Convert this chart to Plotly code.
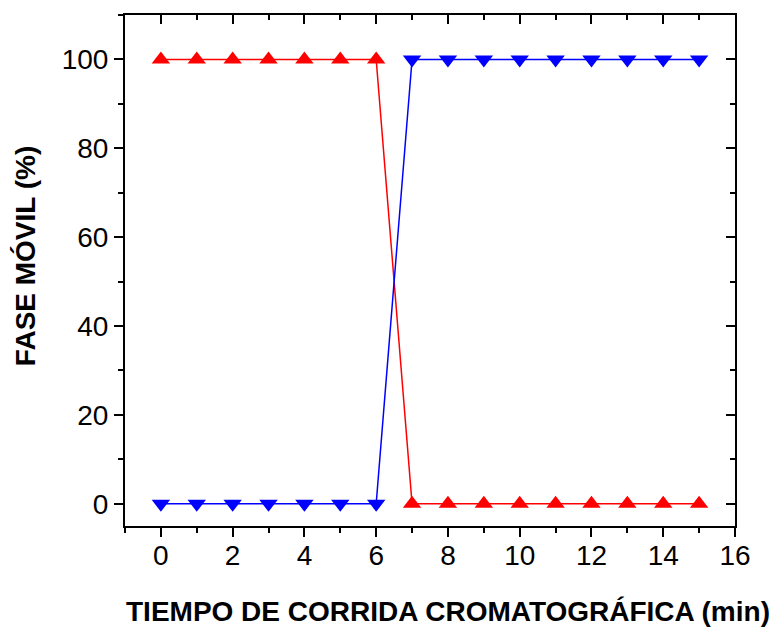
import plotly.graph_objects as go

tiempo = list(range(0, 16))
fase_a = [100, 100, 100, 100, 100, 100, 100, 0, 0, 0, 0, 0, 0, 0, 0, 0]
fase_b = [0, 0, 0, 0, 0, 0, 0, 100, 100, 100, 100, 100, 100, 100, 100, 100]
x_ticks = [0, 2, 4, 6, 8, 10, 12, 14, 16]
y_ticks = [0, 20, 40, 60, 80, 100]
x_title = "TIEMPO DE CORRIDA CROMATOGRÁFICA (min)"
y_title = "FASE MÓVIL (%)"

FONT = "Liberation Sans, Arial, sans-serif"

fig = go.Figure()
fig.add_trace(go.Scatter(x=tiempo, y=fase_a, mode="lines+markers",
                         line=dict(color="#ff0000", width=1.5),
                         marker=dict(symbol="triangle-up", size=16, color="#ff0000"),
                         showlegend=False, cliponaxis=False))
fig.add_trace(go.Scatter(x=tiempo, y=fase_b, mode="lines+markers",
                         line=dict(color="#0000ff", width=1.5),
                         marker=dict(symbol="triangle-down", size=16, color="#0000ff"),
                         showlegend=False, cliponaxis=False))

common = dict(showgrid=False, zeroline=False, linecolor="black", linewidth=2,
              tickcolor="black", tickwidth=1.5, ticklen=9, automargin=False)
minor_out_x = dict(dtick=1, tick0=0, ticks="outside", ticklen=5, tickcolor="black", tickwidth=1.5)
minor_out_y = dict(dtick=10, tick0=0, ticks="outside", ticklen=5, tickcolor="black", tickwidth=1.5)
fig.update_layout(
    width=776, height=629,
    margin=dict(l=125, r=41, t=15, b=103, autoexpand=False),
    plot_bgcolor="white", paper_bgcolor="white",
    font=dict(family=FONT, color="black"),
    xaxis=dict(range=[-1, 16], tickvals=x_ticks, ticks="outside",
               tickfont=dict(size=28), ticklabelstandoff=-6, minor=minor_out_x, **common),
    yaxis=dict(range=[-5, 110], tickvals=y_ticks, ticks="outside",
               tickfont=dict(size=28), minor=minor_out_y, **common),
    xaxis2=dict(overlaying="x", matches="x", side="top", tickvals=x_ticks, ticks="inside",
                showticklabels=False,
                minor=dict(minor_out_x, ticks="inside"), **common),
    yaxis2=dict(overlaying="y", matches="y", side="right", tickvals=y_ticks, ticks="inside",
                showticklabels=False,
                minor=dict(minor_out_y, ticks="inside"), **common),
    annotations=[
        dict(text="<b>" + x_title + "</b>", xref="paper", yref="paper",
             x=0.5295, y=-0.168, xanchor="center", yanchor="middle",
             showarrow=False, font=dict(size=28)),
        dict(text="<b>" + y_title + "</b>", xref="paper", yref="paper",
             x=-0.164, y=0.528, xanchor="center", yanchor="middle", textangle=-90,
             showarrow=False, font=dict(size=28)),
    ],
)
# invisible trace to activate the mirrored axes
fig.add_trace(go.Scatter(x=[tiempo[0]], y=[fase_a[0]], xaxis="x2", yaxis="y2",
                         mode="markers", marker=dict(opacity=0), showlegend=False, hoverinfo="skip"))
fig.write_html("out.html", config={"displayModeBar": False},
               post_script="document.body.style.margin='0';document.body.style.overflow='hidden';")
